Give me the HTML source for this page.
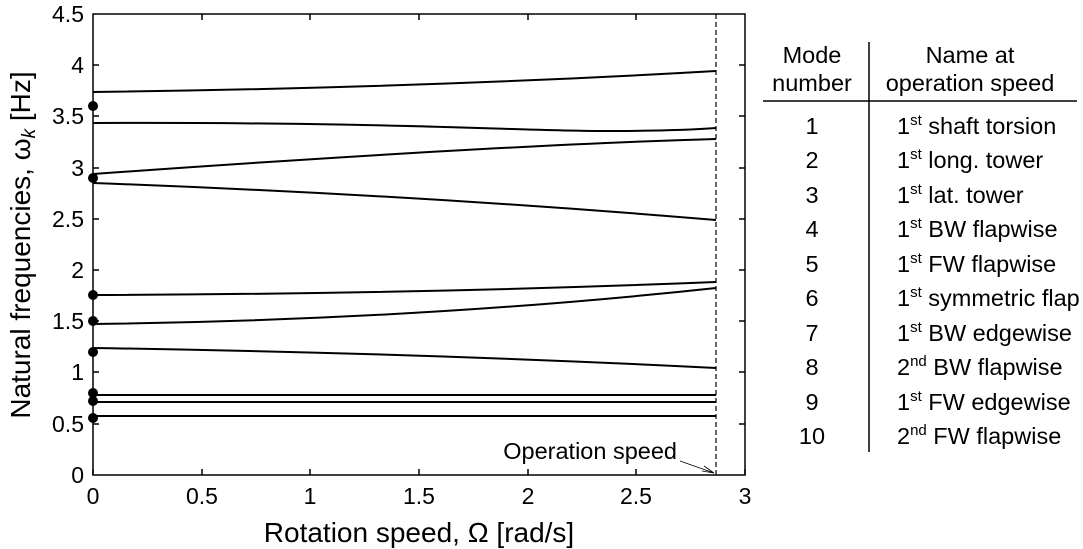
<!DOCTYPE html>
<html><head><style>body{margin:0;background:#fff}svg{display:block}text{font-family:"Liberation Sans",sans-serif;fill:#000}</style></head><body>
<svg width="1083" height="549" viewBox="0 0 1083 549">
<g stroke="#000" fill="none" stroke-width="1.5">
<rect x="93" y="14" width="652" height="461"/>
<path d="M93 475v-6M202 475v-6M310 475v-6M419 475v-6M528 475v-6M636 475v-6M745 475v-6M202 14v6M310 14v6M419 14v6M528 14v6M636 14v6"/>
<path d="M93 424h6M93 372h6M93 321h6M93 270h6M93 219h6M93 168h6M93 116h6M93 65h6M745 424h-6M745 372h-6M745 321h-6M745 270h-6M745 219h-6M745 168h-6M745 116h-6M745 65h-6"/>
<path d="M716 14V475" stroke-dasharray="5,3" stroke-width="1.2"/>
</g>
<g stroke="#000" fill="none" stroke-width="2">
<path d="M93 92 Q420 88 716 71"/>
<path d="M93 123 C400 122 520 131 600 131 C660 131 690 130 716 128"/>
<path d="M93 174 Q500 145 716 139"/>
<path d="M93 183 Q420 195 716 220"/>
<path d="M93 295 Q420 294 716 282"/>
<path d="M93 324 Q420 320 716 288"/>
<path d="M93 348 Q420 353 716 368"/>
<path d="M93 395 H716"/>
<path d="M93 402 H716"/>
<path d="M93 416 H716"/>
</g>
<g fill="#000">
<circle cx="93" cy="106" r="5"/><circle cx="93" cy="178" r="5"/><circle cx="93" cy="295" r="5"/><circle cx="93" cy="321" r="5"/><circle cx="93" cy="352" r="5"/><circle cx="93" cy="393" r="5"/><circle cx="93" cy="401" r="5"/><circle cx="93" cy="418" r="5"/>
</g>
<path d="M680 461 L714 473 M704 466 L714 473 L702 471" stroke="#000" fill="none" stroke-width="0.8"/>
<text x="677" y="459" font-size="23.5" text-anchor="end">Operation speed</text>
<g font-size="23" text-anchor="end">
<text x="84" y="483">0</text><text x="84" y="432">0.5</text><text x="84" y="380">1</text><text x="84" y="329">1.5</text><text x="84" y="278">2</text><text x="84" y="227">2.5</text><text x="84" y="176">3</text><text x="84" y="124">3.5</text><text x="84" y="73">4</text><text x="84" y="22">4.5</text>
</g>
<g font-size="23" text-anchor="middle">
<text x="93" y="504">0</text><text x="202" y="504">0.5</text><text x="310" y="504">1</text><text x="419" y="504">1.5</text><text x="528" y="504">2</text><text x="636" y="504">2.5</text><text x="745" y="504">3</text>
</g>
<text x="419" y="542" font-size="28" text-anchor="middle">Rotation speed, Ω [rad/s]</text>
<text transform="translate(30,245) rotate(-90)" font-size="28" text-anchor="middle">Natural frequencies, ω<tspan font-style="italic" font-size="19" dy="5">k</tspan><tspan dy="-5"> [Hz]</tspan></text>
<g stroke="#000" stroke-width="1.5"><path d="M869 42V452M763 101H1077"/></g>
<g font-size="23.5" text-anchor="middle">
<text x="812" y="63">Mode</text><text x="812" y="91">number</text>
<text x="970" y="63">Name at</text><text x="970" y="91">operation speed</text>
<text x="812" y="134">1</text><text x="812" y="168">2</text><text x="812" y="203">3</text><text x="812" y="237">4</text><text x="812" y="272">5</text><text x="812" y="306">6</text><text x="812" y="341">7</text><text x="812" y="375">8</text><text x="812" y="410">9</text><text x="812" y="444">10</text>
</g>
<g font-size="23.5">
<text x="897" y="134">1<tspan font-size="15" dy="-9">st</tspan><tspan dy="9"> shaft torsion</tspan></text>
<text x="897" y="168">1<tspan font-size="15" dy="-9">st</tspan><tspan dy="9"> long. tower</tspan></text>
<text x="897" y="203">1<tspan font-size="15" dy="-9">st</tspan><tspan dy="9"> lat. tower</tspan></text>
<text x="897" y="237">1<tspan font-size="15" dy="-9">st</tspan><tspan dy="9"> BW flapwise</tspan></text>
<text x="897" y="272">1<tspan font-size="15" dy="-9">st</tspan><tspan dy="9"> FW flapwise</tspan></text>
<text x="897" y="306">1<tspan font-size="15" dy="-9">st</tspan><tspan dy="9"> symmetric flap</tspan></text>
<text x="897" y="341">1<tspan font-size="15" dy="-9">st</tspan><tspan dy="9"> BW edgewise</tspan></text>
<text x="897" y="375">2<tspan font-size="15" dy="-9">nd</tspan><tspan dy="9"> BW flapwise</tspan></text>
<text x="897" y="410">1<tspan font-size="15" dy="-9">st</tspan><tspan dy="9"> FW edgewise</tspan></text>
<text x="897" y="444">2<tspan font-size="15" dy="-9">nd</tspan><tspan dy="9"> FW flapwise</tspan></text>
</g>
</svg>
</body></html>
